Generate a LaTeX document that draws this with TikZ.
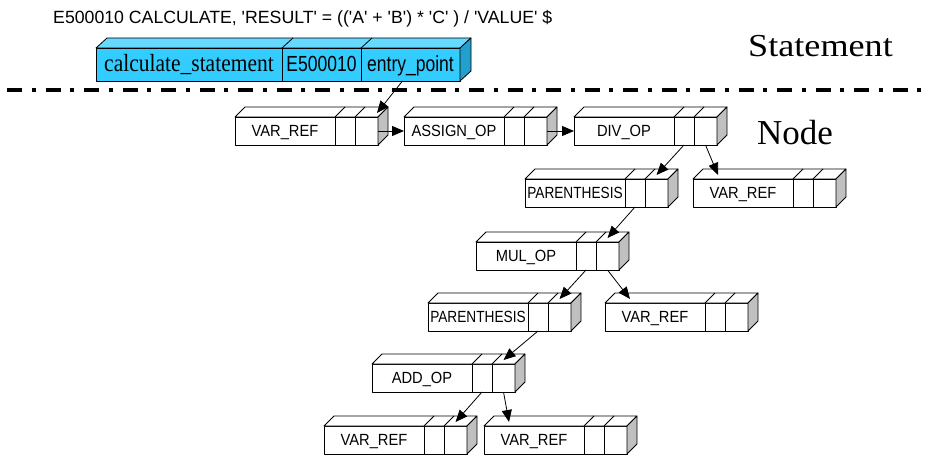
\documentclass[tikz,border=0pt]{standalone}
\usepackage{fontspec}
\setmainfont{Liberation Serif}
\setsansfont{Liberation Sans}
\usepackage{graphicx}
\usetikzlibrary{arrows.meta}
\definecolor{cyanfront}{RGB}{51,204,255}
\definecolor{cyantop}{RGB}{102,217,255}
\definecolor{cyanside}{RGB}{34,160,204}
\definecolor{sidegray}{RGB}{192,192,192}
\tikzset{
  boxline/.style={draw=black, line width=0.8pt, line join=round},
  cellbox/.style={boxline, rectangle, inner sep=0pt, outer sep=0pt, minimum height=28pt, fill=white, anchor=north west},
  lbl/.style={font=\sffamily\fontsize{14.7}{16}\selectfont, text height=11.4pt, text depth=0pt},
  stmtcell/.style={boxline, rectangle, inner sep=0pt, outer sep=0pt, minimum height=33pt, fill=cyanfront, anchor=north west, text height=14pt, text depth=0pt},
  stmtsans/.style={font=\sffamily\fontsize{17.5}{20}\selectfont},
  link/.style={draw=black, line width=0.8pt, -{Triangle[length=12pt,width=10pt]}},
}
\newcommand\opbox[4]{%
  \node[cellbox, lbl, minimum width=100pt] (#1) at (#2,#3) {\scalebox{1}[1.1]{#4}};
  \node[cellbox, minimum width=20pt] (#1-a) at (#1.north east) {};
  \node[cellbox, minimum width=23pt] (#1-b) at (#1-a.north east) {};
  \draw[boxline, fill=white] (#1.north west) -- ++(10,-10) -- ([shift={(10,-10)}]#1-b.north east) -- (#1-b.north east) -- cycle;
  \draw[boxline] (#1.north east) -- ++(10,-10) (#1-a.north east) -- ++(10,-10);
  \draw[boxline, fill=sidegray] (#1-b.north east) -- ++(10,-10) -- ++(0,28) -- (#1-b.south east) -- cycle;
}
\begin{document}
\begin{tikzpicture}[x=1pt,y=-1pt]
\useasboundingbox (0,0) rectangle (929,457);
% code line
\node[font=\sffamily\fontsize{17.7}{20}\selectfont, anchor=base west, inner sep=0pt] (code) at (53,24)
  {E500010 CALCULATE, \textquotesingle RESULT\textquotesingle{} = ((\textquotesingle A\textquotesingle{} + \textquotesingle B\textquotesingle) * \textquotesingle C\textquotesingle{} ) / \textquotesingle VALUE\textquotesingle{} \$};
% statement box
\node[stmtcell, minimum width=186pt, font=\fontsize{21.5}{24}\selectfont] (stmt) at (96,48) {\scalebox{1}[1.15]{calculate\_statement}};
\node[stmtcell, stmtsans, minimum width=79pt] (stmt-b) at (stmt.north east) {\scalebox{1}[1.25]{E500010}};
\node[stmtcell, stmtsans, minimum width=99pt] (stmt-c) at (stmt-b.north east) {\scalebox{1}[1.25]{entry\_point}};
\draw[boxline, fill=cyantop] (stmt.north west) -- ++(11,-10) -- ([shift={(11,-10)}]stmt-c.north east) -- (stmt-c.north east) -- cycle;
\draw[boxline] (stmt.north east) -- ++(11,-10) (stmt-b.north east) -- ++(11,-10);
\draw[boxline, fill=cyanside] (stmt-c.north east) -- ++(11,-10) -- ++(0,33) -- (stmt-c.south east) -- cycle;
% labels
\node[font=\fontsize{32}{36}\selectfont, anchor=base west, inner sep=0pt] (stmtlabel) at (748,57) {\scalebox{1.13}[1]{Statement}};
\node[font=\fontsize{35}{40}\selectfont, anchor=base west, inner sep=0pt] (nodelabel) at (757,145) {Node};
% separator
\draw[line width=3.5pt, dash pattern=on 15pt off 9.5pt on 4pt off 10pt] (7,90) -- (929,90);
% nodes
\opbox{v1}{235}{117}{VAR\_REF}
\opbox{asg}{404}{117}{ASSIGN\_OP}
\opbox{div}{574}{117}{DIV\_OP}
\opbox{par1}{525}{179}{\scalebox{0.93}[1]{PARENTHESIS}}
\opbox{v2}{693}{179}{VAR\_REF}
\opbox{mul}{476}{242}{MUL\_OP}
\opbox{par2}{428}{303}{\scalebox{0.93}[1]{PARENTHESIS}}
\opbox{v3}{605}{303}{VAR\_REF}
\opbox{add}{372}{364}{ADD\_OP}
\opbox{v4}{324}{426}{VAR\_REF}
\opbox{v5}{484}{426}{VAR\_REF}
% connectors
\draw[link] ([xshift=-8pt]stmt-c.south) -- ([shift={(-1,-4)}]v1-b.north east);
\draw[link] (v1-b.east) -- (asg.west);
\draw[link] (asg-b.east) -- (div.west);
\draw[link] (div-a.south) -- ([yshift=4pt]par1-b.north);
\draw[link] (div-b.south) -- ([shift={(25,-4)}]v2.north west);
\draw[link] (par1-a.south) -- ([yshift=4pt]mul-b.north);
\draw[link] (mul-a.south) -- ([yshift=4pt]par2-b.north);
\draw[link] (mul-b.south) -- ([shift={(25,-4)}]v3.north west);
\draw[link] (par2-a.south) -- ([yshift=4pt]add-b.north);
\draw[link] (add-a.south) -- ([yshift=4pt]v4-b.north);
\draw[link] (add-b.south) -- ([shift={(25,-4)}]v5.north west);
\end{tikzpicture}
\end{document}
